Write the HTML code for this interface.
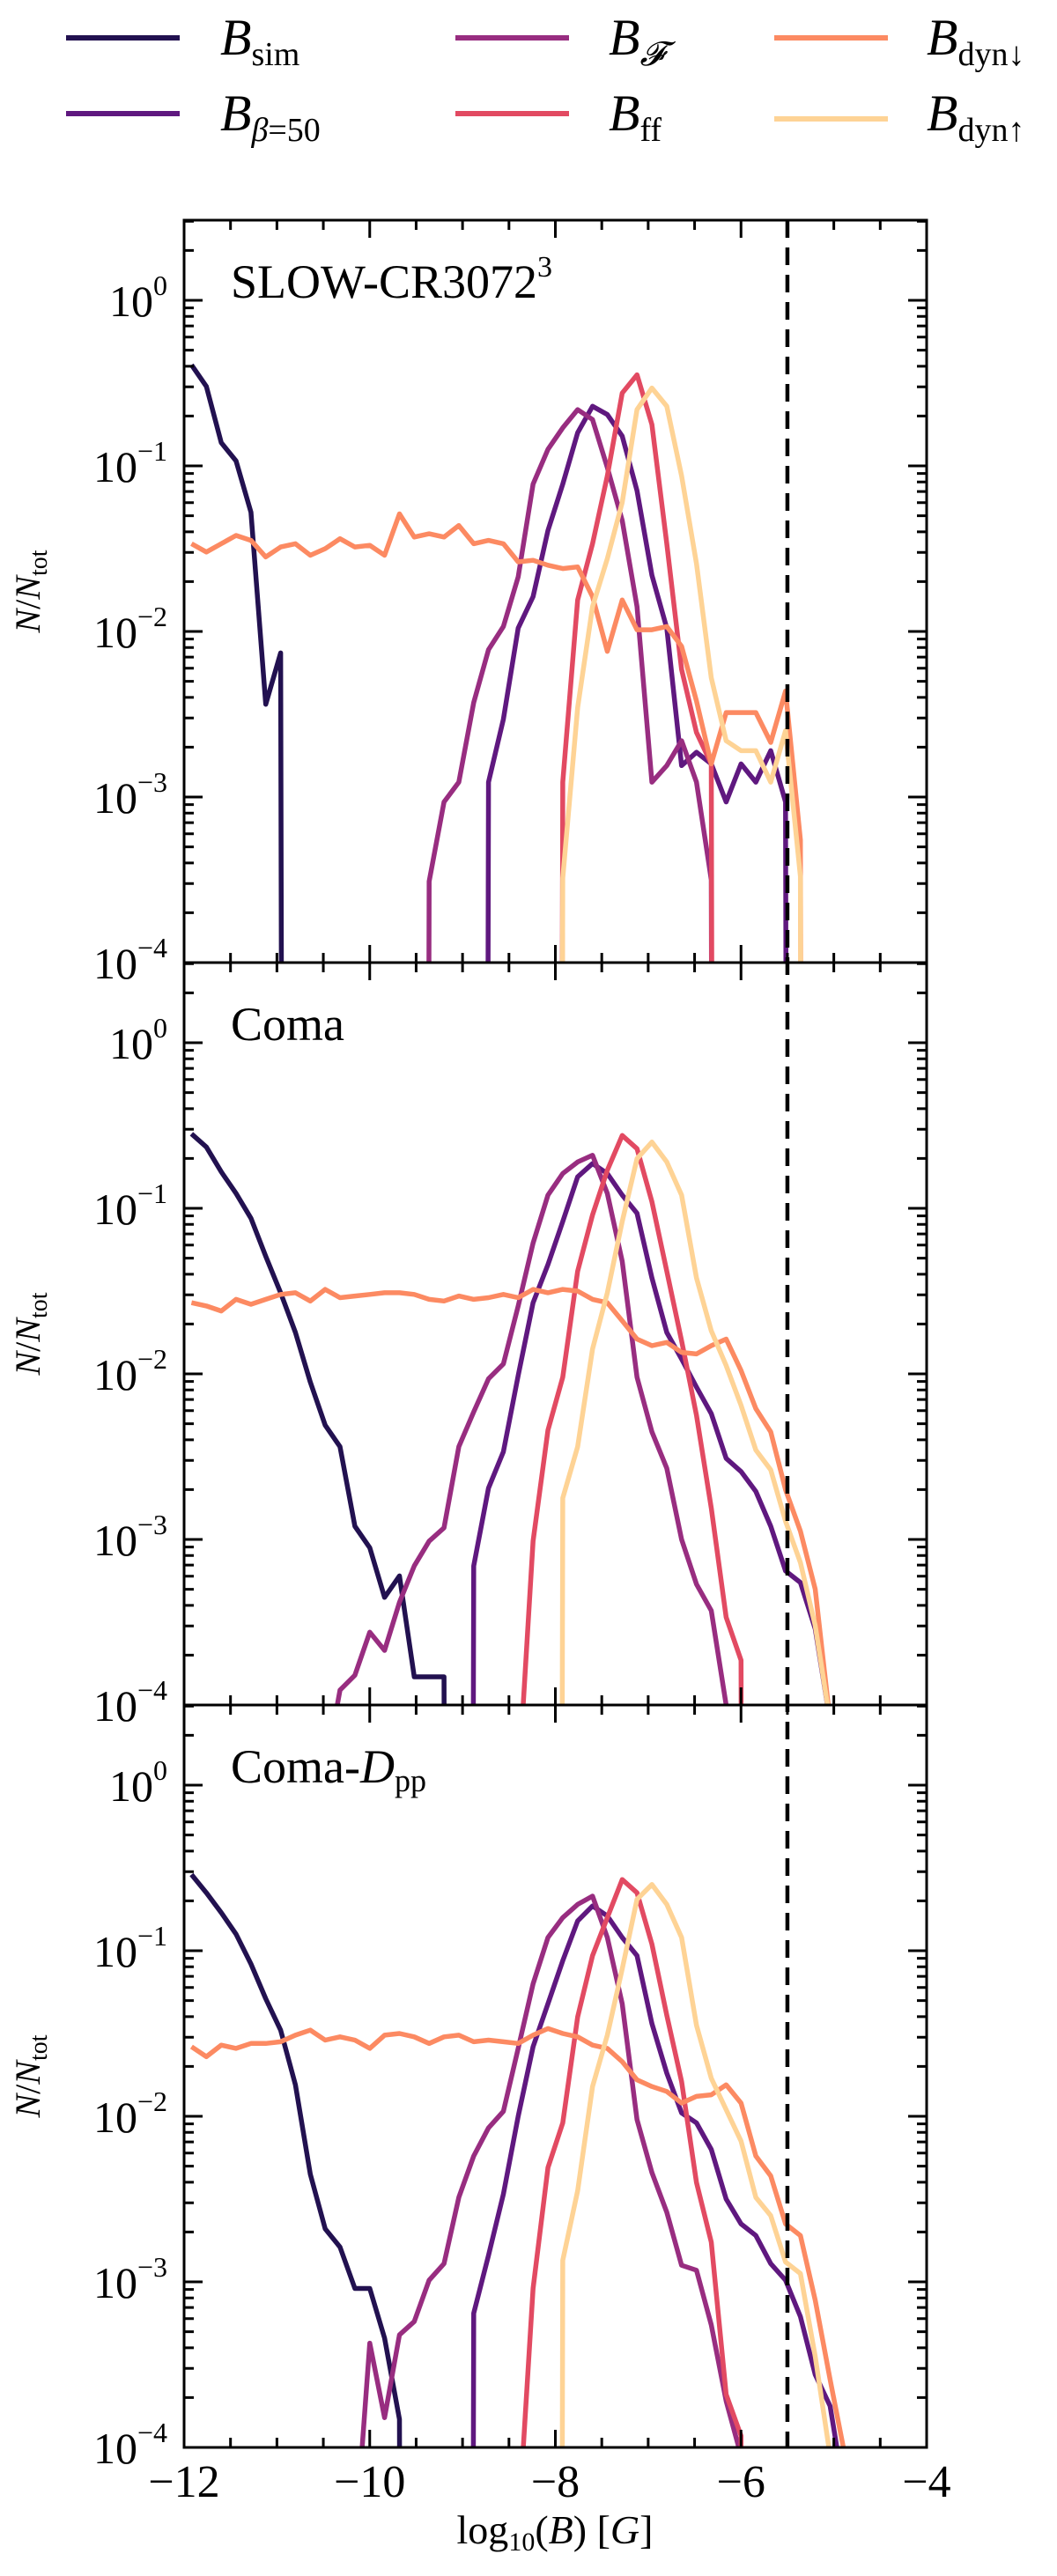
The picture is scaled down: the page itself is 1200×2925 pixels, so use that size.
<!DOCTYPE html>
<html><head><meta charset="utf-8"><style>
html,body{margin:0;padding:0;background:#fff;width:1200px;height:2925px;overflow:hidden;}
svg{display:block;}
text{font-family:"Liberation Serif",serif;fill:#000;}
</style></head><body>
<svg id="fig" width="1200" height="2925" viewBox="0 0 1200 2925" xmlns="http://www.w3.org/2000/svg">
<g id="legend"></g>
<g id="panels"></g>
<text x="630" y="2888" font-size="46" text-anchor="middle">log<tspan font-size="30" dy="8">10</tspan><tspan dy="-8">(</tspan><tspan font-style="italic">B</tspan>) [<tspan font-style="italic">G</tspan>]</text>
</svg>
<script>
// ---- data: log10(N/Ntot) per bin (50 bins from -12 to -4); null = empty bin
const binStart = -12, binWidth = 0.16;
const panelNames = ["SLOW-CR3072", "Coma", "Coma-D"];
const seriesNames = ["sim", "beta50", "F", "ff", "dynDown", "dynUp"];
const xTicks = [-12, -10, -8, -6, -4];
const yTicks = [0, -1, -2, -3, -4];
const vLine = -5.5;

const p1_sim = [-0.39,-0.52,-0.86,-0.97,-1.28,-2.44,-2.13,null];
const p1_beta50 = [null,null,null,null,null,null,null,null,null,null,null,null,null,null,null,null,null,null,null,null,-2.91,-2.53,-1.98,-1.79,-1.39,-1.11,-0.80,-0.64,-0.69,-0.82,-1.15,-1.66,-1.98,-2.81,-2.73,-2.80,-3.03,-2.80,-2.91,-2.72,-3.03,null];
const p1_F = [null,null,null,null,null,null,null,null,null,null,null,null,null,null,null,null,-3.51,-3.03,-2.91,-2.43,-2.11,-1.97,-1.67,-1.11,-0.90,-0.77,-0.66,-0.72,-1.01,-1.33,-1.85,-2.91,-2.81,-2.66,-2.91,-3.50,null];
const p1_ff = [null,null,null,null,null,null,null,null,null,null,null,null,null,null,null,null,null,null,null,null,null,null,null,null,null,-2.91,-1.81,-1.47,-1.06,-0.56,-0.45,-0.75,-1.47,-2.23,-2.61,-2.80,null];
const p1_dynDown = [-1.47,-1.52,-1.47,-1.42,-1.45,-1.55,-1.49,-1.47,-1.54,-1.50,-1.44,-1.49,-1.48,-1.54,-1.29,-1.43,-1.41,-1.43,-1.36,-1.47,-1.45,-1.47,-1.58,-1.57,-1.60,-1.62,-1.61,-1.79,-2.12,-1.81,-1.99,-1.99,-1.97,-2.09,-2.42,-2.80,-2.49,-2.49,-2.49,-2.67,-2.36,-3.26,null];
const p1_dynUp = [null,null,null,null,null,null,null,null,null,null,null,null,null,null,null,null,null,null,null,null,null,null,null,null,null,-3.49,-2.46,-1.85,-1.56,-1.22,-0.66,-0.53,-0.64,-1.06,-1.59,-2.28,-2.66,-2.72,-2.72,-2.91,-2.60,-3.48,null];

const p2_sim = [-0.55,-0.63,-0.78,-0.91,-1.06,-1.29,-1.51,-1.75,-2.05,-2.31,-2.44,-2.92,-3.05,-3.35,-3.22,-3.83,-3.83,-3.83,null];
const p2_beta50 = [null,null,null,null,null,null,null,null,null,null,null,null,null,null,null,null,null,null,null,-3.16,-2.69,-2.47,-2.01,-1.57,-1.34,-1.08,-0.81,-0.73,-0.79,-0.92,-1.03,-1.42,-1.75,-1.91,-2.08,-2.24,-2.51,-2.59,-2.71,-2.92,-3.19,-3.26,-3.54,-4.1,null];
const p2_F = [null,null,null,null,null,null,null,null,null,-4.4,-3.91,-3.82,-3.56,-3.67,-3.38,-3.16,-3.01,-2.93,-2.44,-2.23,-2.03,-1.94,-1.59,-1.21,-0.92,-0.79,-0.72,-0.68,-0.91,-1.32,-2.02,-2.35,-2.57,-3.00,-3.27,-3.43,-4.0,-4.3,null];
const p2_ff = [null,null,null,null,null,null,null,null,null,null,null,null,null,null,null,null,null,null,null,null,null,null,-4.5,-3.01,-2.34,-2.02,-1.38,-1.04,-0.77,-0.56,-0.64,-0.96,-1.38,-1.80,-2.25,-2.81,-3.47,-3.73,null];
const p2_dynDown = [-1.57,-1.59,-1.62,-1.55,-1.58,-1.55,-1.52,-1.51,-1.56,-1.49,-1.54,-1.53,-1.52,-1.51,-1.51,-1.52,-1.55,-1.56,-1.53,-1.55,-1.54,-1.52,-1.54,-1.49,-1.51,-1.49,-1.50,-1.55,-1.57,-1.68,-1.79,-1.83,-1.81,-1.87,-1.88,-1.83,-1.79,-1.98,-2.21,-2.35,-2.70,-2.95,-3.30,-4.1,null];
const p2_dynUp = [null,null,null,null,null,null,null,null,null,null,null,null,null,null,null,null,null,null,null,null,null,null,null,null,null,-2.75,-2.44,-1.85,-1.51,-1.08,-0.70,-0.60,-0.72,-0.92,-1.42,-1.74,-1.95,-2.19,-2.46,-2.58,-2.89,-3.14,-3.52,-4.1,null];

const p3_sim = [-0.54,-0.65,-0.77,-0.90,-1.08,-1.29,-1.48,-1.81,-2.35,-2.68,-2.79,-3.04,-3.04,-3.34,-3.83,null];
const p3_beta50 = [null,null,null,null,null,null,null,null,null,null,null,null,null,null,null,null,null,null,null,-3.19,-2.84,-2.47,-2.00,-1.58,-1.32,-1.06,-0.82,-0.73,-0.79,-0.92,-1.03,-1.44,-1.74,-1.98,-2.04,-2.20,-2.50,-2.65,-2.72,-2.89,-2.99,-3.21,-3.56,-3.75,-4.3,null];
const p3_F = [null,null,null,null,null,null,null,null,null,null,null,-4.6,-3.37,-3.82,-3.32,-3.24,-2.99,-2.89,-2.49,-2.24,-2.07,-1.97,-1.59,-1.20,-0.92,-0.80,-0.72,-0.67,-0.92,-1.32,-2.02,-2.34,-2.58,-2.90,-2.93,-3.26,-3.72,-4.05,null];
const p3_ff = [null,null,null,null,null,null,null,null,null,null,null,null,null,null,null,null,null,null,null,null,null,null,-4.5,-3.04,-2.31,-2.04,-1.40,-1.03,-0.80,-0.57,-0.65,-0.96,-1.39,-1.79,-2.40,-2.76,-3.68,-3.93,null];
const p3_dynDown = [-1.58,-1.64,-1.57,-1.59,-1.56,-1.56,-1.55,-1.51,-1.48,-1.54,-1.52,-1.54,-1.59,-1.51,-1.50,-1.52,-1.56,-1.52,-1.51,-1.55,-1.54,-1.55,-1.56,-1.51,-1.47,-1.50,-1.52,-1.57,-1.59,-1.67,-1.78,-1.82,-1.85,-1.92,-1.88,-1.87,-1.81,-1.92,-2.24,-2.36,-2.65,-2.72,-3.11,-3.59,-4.05,null];
const p3_dynUp = [null,null,null,null,null,null,null,null,null,null,null,null,null,null,null,null,null,null,null,null,null,null,null,null,null,-2.87,-2.45,-1.82,-1.51,-1.11,-0.69,-0.60,-0.72,-0.92,-1.45,-1.77,-1.96,-2.15,-2.49,-2.60,-2.88,-2.95,-3.45,-4.05,null];

const panelData = [
  [p1_sim,p1_beta50,p1_F,p1_ff,p1_dynDown,p1_dynUp],
  [p2_sim,p2_beta50,p2_F,p2_ff,p2_dynDown,p2_dynUp],
  [p3_sim,p3_beta50,p3_F,p3_ff,p3_dynDown,p3_dynUp]
];

// ---- styling / layout
const colors = ["#221150","#5f187f","#982d80","#e24a62","#fc8a62","#fed395"];
const NS = "http://www.w3.org/2000/svg";
const L = 209, R = 1052, TOP = 250, PH = 843, DEC = 188;
const X = v => L + (v + 12) * (R - L) / 8;
const Y = (p, l) => TOP + PH * p + 91 - l * DEC;
const svg = document.getElementById("fig");
const panelsG = document.getElementById("panels");
function mk(tag, attrs, parent){ const e=document.createElementNS(NS,tag); for(const k in attrs) e.setAttribute(k,attrs[k]); parent.appendChild(e); return e; }

const defs = mk("defs",{},svg);
for(let p=0;p<3;p++){
  const cp = mk("clipPath",{id:"clip"+p},defs);
  mk("rect",{x:L,y:TOP+PH*p,width:R-L,height:PH},cp);
}

for(let p=0;p<3;p++){
  const g = mk("g",{},panelsG);
  
  
  const top = TOP+PH*p, bot = top+PH;
  const sg = mk("g",{"clip-path":"url(#clip"+p+")"},g);
  panelData[p].forEach((arr,s)=>{
    let d="", started=false;
    arr.forEach((v,k)=>{
      const xv = binStart + binWidth*(k+0.5);
      const lv = (v===null) ? -40 : v;
      if(v===null && !started && (k+1>=arr.length || arr[k+1]===null)) return;
      d += (started?"L":"M") + X(xv).toFixed(1) + "," + Y(p,lv).toFixed(1) + " ";
      started=true;
    });
    const path = mk("path",{d:d,fill:"none",stroke:colors[s],"stroke-width":5.5,"stroke-linejoin":"round"},sg);
    
    
  });
  const fr = mk("rect",{x:L,y:top,width:R-L,height:PH,fill:"none",stroke:"#000","stroke-width":3},g);
  
  
  let td="";
  for(let v=-12; v<=-4.001+0.0001; v+=0.5){
    const len = (Math.abs(v%2)<1e-6)?20:11;
    const x=X(v);
    td+=`M${x},${bot}v${-len}M${x},${top}v${len}`;
  }
  for(let e=-4;e<=0;e++){
    for(let m=1;m<=9;m++){
      const l=e+Math.log10(m);
      if(l>0.48) continue;
      const y=Y(p,l); const len=(m===1)?21:11;
      td+=`M${L},${y}h${len}M${R},${y}h${-len}`;
    }
  }
  const tk = mk("path",{d:td,stroke:"#000","stroke-width":3,fill:"none"},g);
  
  
  yTicks.forEach(l=>{
    const t = mk("text",{x:190,y:Y(p,l)+18,"font-size":50,"text-anchor":"end"},g);
    
    
    t.innerHTML = `10<tspan font-size="32" dy="-24">${l===0?"0":"\u2212"+(-l)}</tspan>`;
  });
  const yt = mk("text",{x:0,y:0,"font-size":40,"text-anchor":"middle",transform:`translate(45,${top+PH/2}) rotate(-90)`},g);
  
  
  yt.innerHTML = `<tspan font-style="italic">N</tspan>/<tspan font-style="italic">N</tspan><tspan font-size="28" dy="8">tot</tspan>`;
  const pl = mk("text",{x:262,y:top+88,"font-size":54},g);
  
  
  if(p===0) pl.innerHTML = `SLOW-CR3072<tspan font-size="34" dy="-24">3</tspan>`;
  else if(p===1) pl.textContent = "Coma";
  else pl.innerHTML = `Coma-<tspan font-style="italic">D</tspan><tspan font-size="36" dy="10">pp</tspan>`;
}
xTicks.forEach(v=>{
  const t = mk("text",{x:X(v),y:2835,"font-size":52,"text-anchor":"middle"},svg);
  
  
  t.textContent = "\u2212"+(-v);
});
const dl = mk("line",{x1:X(vLine),x2:X(vLine),y1:TOP,y2:TOP+3*PH,stroke:"#000","stroke-width":4.5,"stroke-dasharray":"20,11"},svg);



const legendLabels = [
  '<tspan font-style="italic">B</tspan><tspan font-size="38" dy="12">sim</tspan>',
  '<tspan font-style="italic">B</tspan><tspan font-size="38" dy="12"><tspan font-style="italic">β</tspan>=50</tspan>',
  '<tspan font-style="italic">B</tspan><tspan font-size="38" dy="12" font-style="italic">𝓕</tspan>',
  '<tspan font-style="italic">B</tspan><tspan font-size="38" dy="12">ff</tspan>',
  '<tspan font-style="italic">B</tspan><tspan font-size="38" dy="12">dyn↓</tspan>',
  '<tspan font-style="italic">B</tspan><tspan font-size="38" dy="12">dyn↑</tspan>'
];
const lg = document.getElementById("legend");
const colX = [[75,204,250],[517,646,691],[879,1008,1052]];
for(let i=0;i<6;i++){
  const c=Math.floor(i/2), r=i%2;
  const ly = r===0?43:(i===5?135:129);
  const ln = mk("line",{x1:colX[c][0],x2:colX[c][1],y1:ly,y2:ly,stroke:colors[i],"stroke-width":6},lg);
  
  
  const t = mk("text",{x:colX[c][2],y:r===0?62:148,"font-size":58},lg);
  
  
  t.innerHTML = legendLabels[i];
}
</script>
</body></html>
